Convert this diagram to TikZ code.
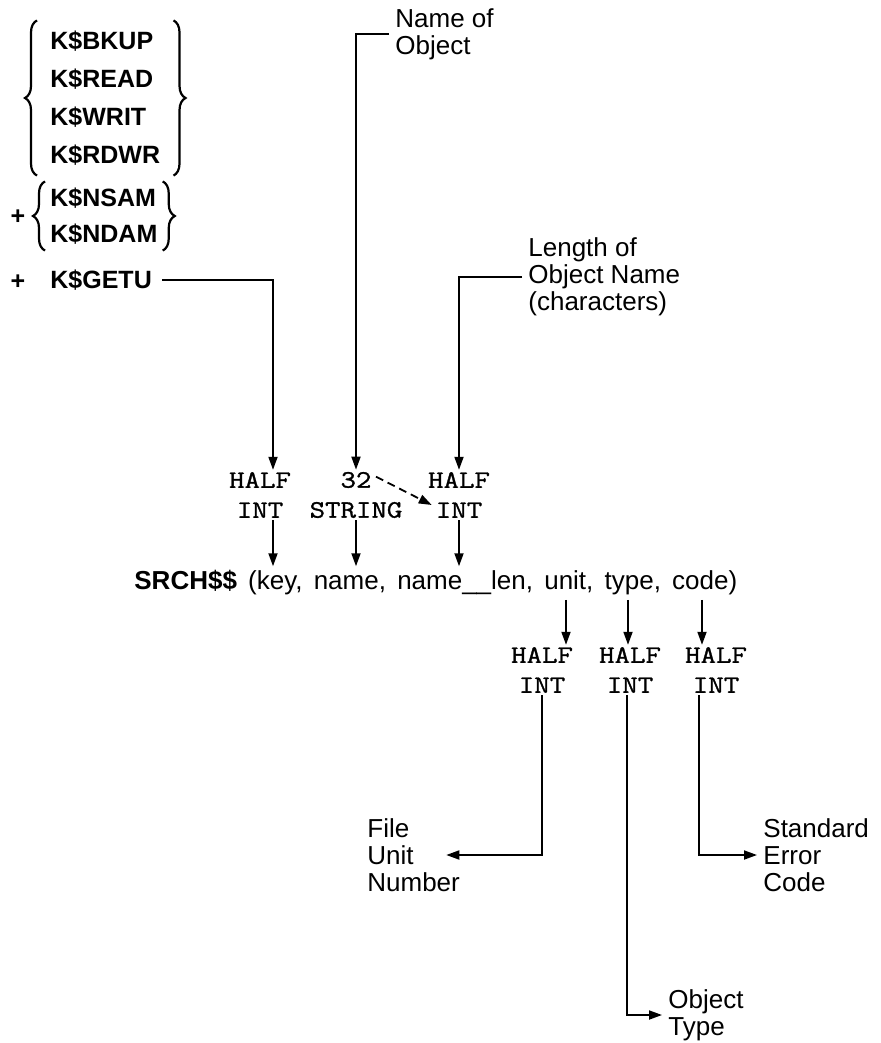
\documentclass[tikz,border=0pt]{standalone}
\usepackage{fontspec}
\setmainfont{Liberation Sans}
\newfontfamily\typefont[FakeStretch=1.2, FakeBold=1.2]{Latin Modern Mono}
\usetikzlibrary{arrows.meta, positioning, calc, decorations.pathreplacing}

\begin{document}
\begin{tikzpicture}[x=0.5pt, y=-0.5pt,
    lbl/.style={align=left, inner sep=3pt, font=\fontsize{13}{13.5}\selectfont},
    keys/.style={align=left, inner sep=0pt, font=\bfseries\fontsize{12.5}{19}\selectfont},
    ctype/.style={align=center, inner sep=1pt, font=\typefont\fontsize{12.5}{15}\selectfont},
    arr/.style={-{Triangle[length=6.5pt,width=4.5pt]}, line width=0.9pt},
    brc/.style={decorate, decoration={brace, amplitude=6pt}, line width=1.1pt},
    dashy/.style={dash pattern=on 4pt off 2.5pt}]
    \useasboundingbox (0,0) rectangle (881,1043);

    % access keys
    \node[keys, inner xsep=6.5pt, inner ysep=5pt, anchor=west] (access) at (37,98) {K\$BKUP\\K\$READ\\K\$WRIT\\K\$RDWR};
    \draw[brc] (access.south west) -- (access.north west);
    \draw[brc] (access.north east) -- (access.south east);

    \node[keys] (plusb) at (18,217) {+};
    \node[keys, font=\bfseries\fontsize{12.5}{18}\selectfont, inner xsep=2.5pt, inner ysep=3pt, anchor=west] (sharing) at (45,216) {K\$NSAM\\K\$NDAM};
    \draw[brc] (sharing.south west) -- (sharing.north west);
    \draw[brc] (sharing.north east) -- (sharing.south east);

    \node[keys] (plusc) at (18,282) {+};
    \node[keys, anchor=west] (getu) at (50,280) {K\$GETU};

    \node[lbl, anchor=west] (objname) at (389,34) {Name of\\Object};
    \node[lbl, anchor=west] (lenname) at (522,277) {Length of\\Object Name\\(characters)};

    % argument types
    \node[ctype] (tkey) at (260,495) {HALF\\INT};
    \node[ctype] (tname) at (356,495) {32\\STRING};
    \node[ctype] (tlen) at (459,495) {HALF\\INT};

    \node[anchor=west, inner sep=2pt, font=\fontsize{13}{15}\selectfont] (call) at (130,583) {\spaceskip=5.6pt\textbf{SRCH\$\$} (key, name, name\_\_len, unit, type, code)};

    \node[ctype] (tunit) at (542,670) {HALF\\INT};
    \node[ctype] (ttype) at (630,670) {HALF\\INT};
    \node[ctype] (tcode) at (716,670) {HALF\\INT};

    \node[lbl, anchor=west] (filelbl) at (361,855) {File\\Unit\\Number};
    \node[lbl, anchor=west] (errlbl) at (757,855) {Standard\\Error\\Code};
    \node[lbl, anchor=west] (objtype) at (662,1015) {Object\\Type};

    % columns of the arrows
    \coordinate (ckey) at (273,0);
    \coordinate (cunit) at (566,0);
    \coordinate (ctype) at (628,0);
    \coordinate (ccode) at (702,0);
    \coordinate (dtype) at (627,0);
    \coordinate (dcode) at (699,0);

    \draw[arr, shorten <=5pt] (getu.east) -| (tkey.north -| ckey);
    \draw[arr] (objname.west) -| (tname.north);
    \draw[arr] (lenname.west) -| (tlen.north);
    \draw[arr, dashy] ([xshift=10pt,yshift=-3.5pt]tname.north) -- ([xshift=3pt,yshift=-5pt]tlen.west);

    \draw[arr] (tkey.south -| ckey) -- (call.north -| ckey);
    \draw[arr] (tname.south) -- (call.north -| tname);
    \draw[arr] (tlen.south) -- (call.north -| tlen);

    \draw[arr] (call.south -| cunit) -- (tunit.north -| cunit);
    \draw[arr] (call.south -| ctype) -- (ttype.north -| ctype);
    \draw[arr] (call.south -| ccode) -- (tcode.north -| ccode);

    \draw[arr] (tunit.south) |- ([xshift=-10pt]filelbl.east);
    \draw[arr] (ttype.south -| dtype) |- (objtype.west);
    \draw[arr] (tcode.south -| dcode) |- (errlbl.west);
\end{tikzpicture}
\end{document}
